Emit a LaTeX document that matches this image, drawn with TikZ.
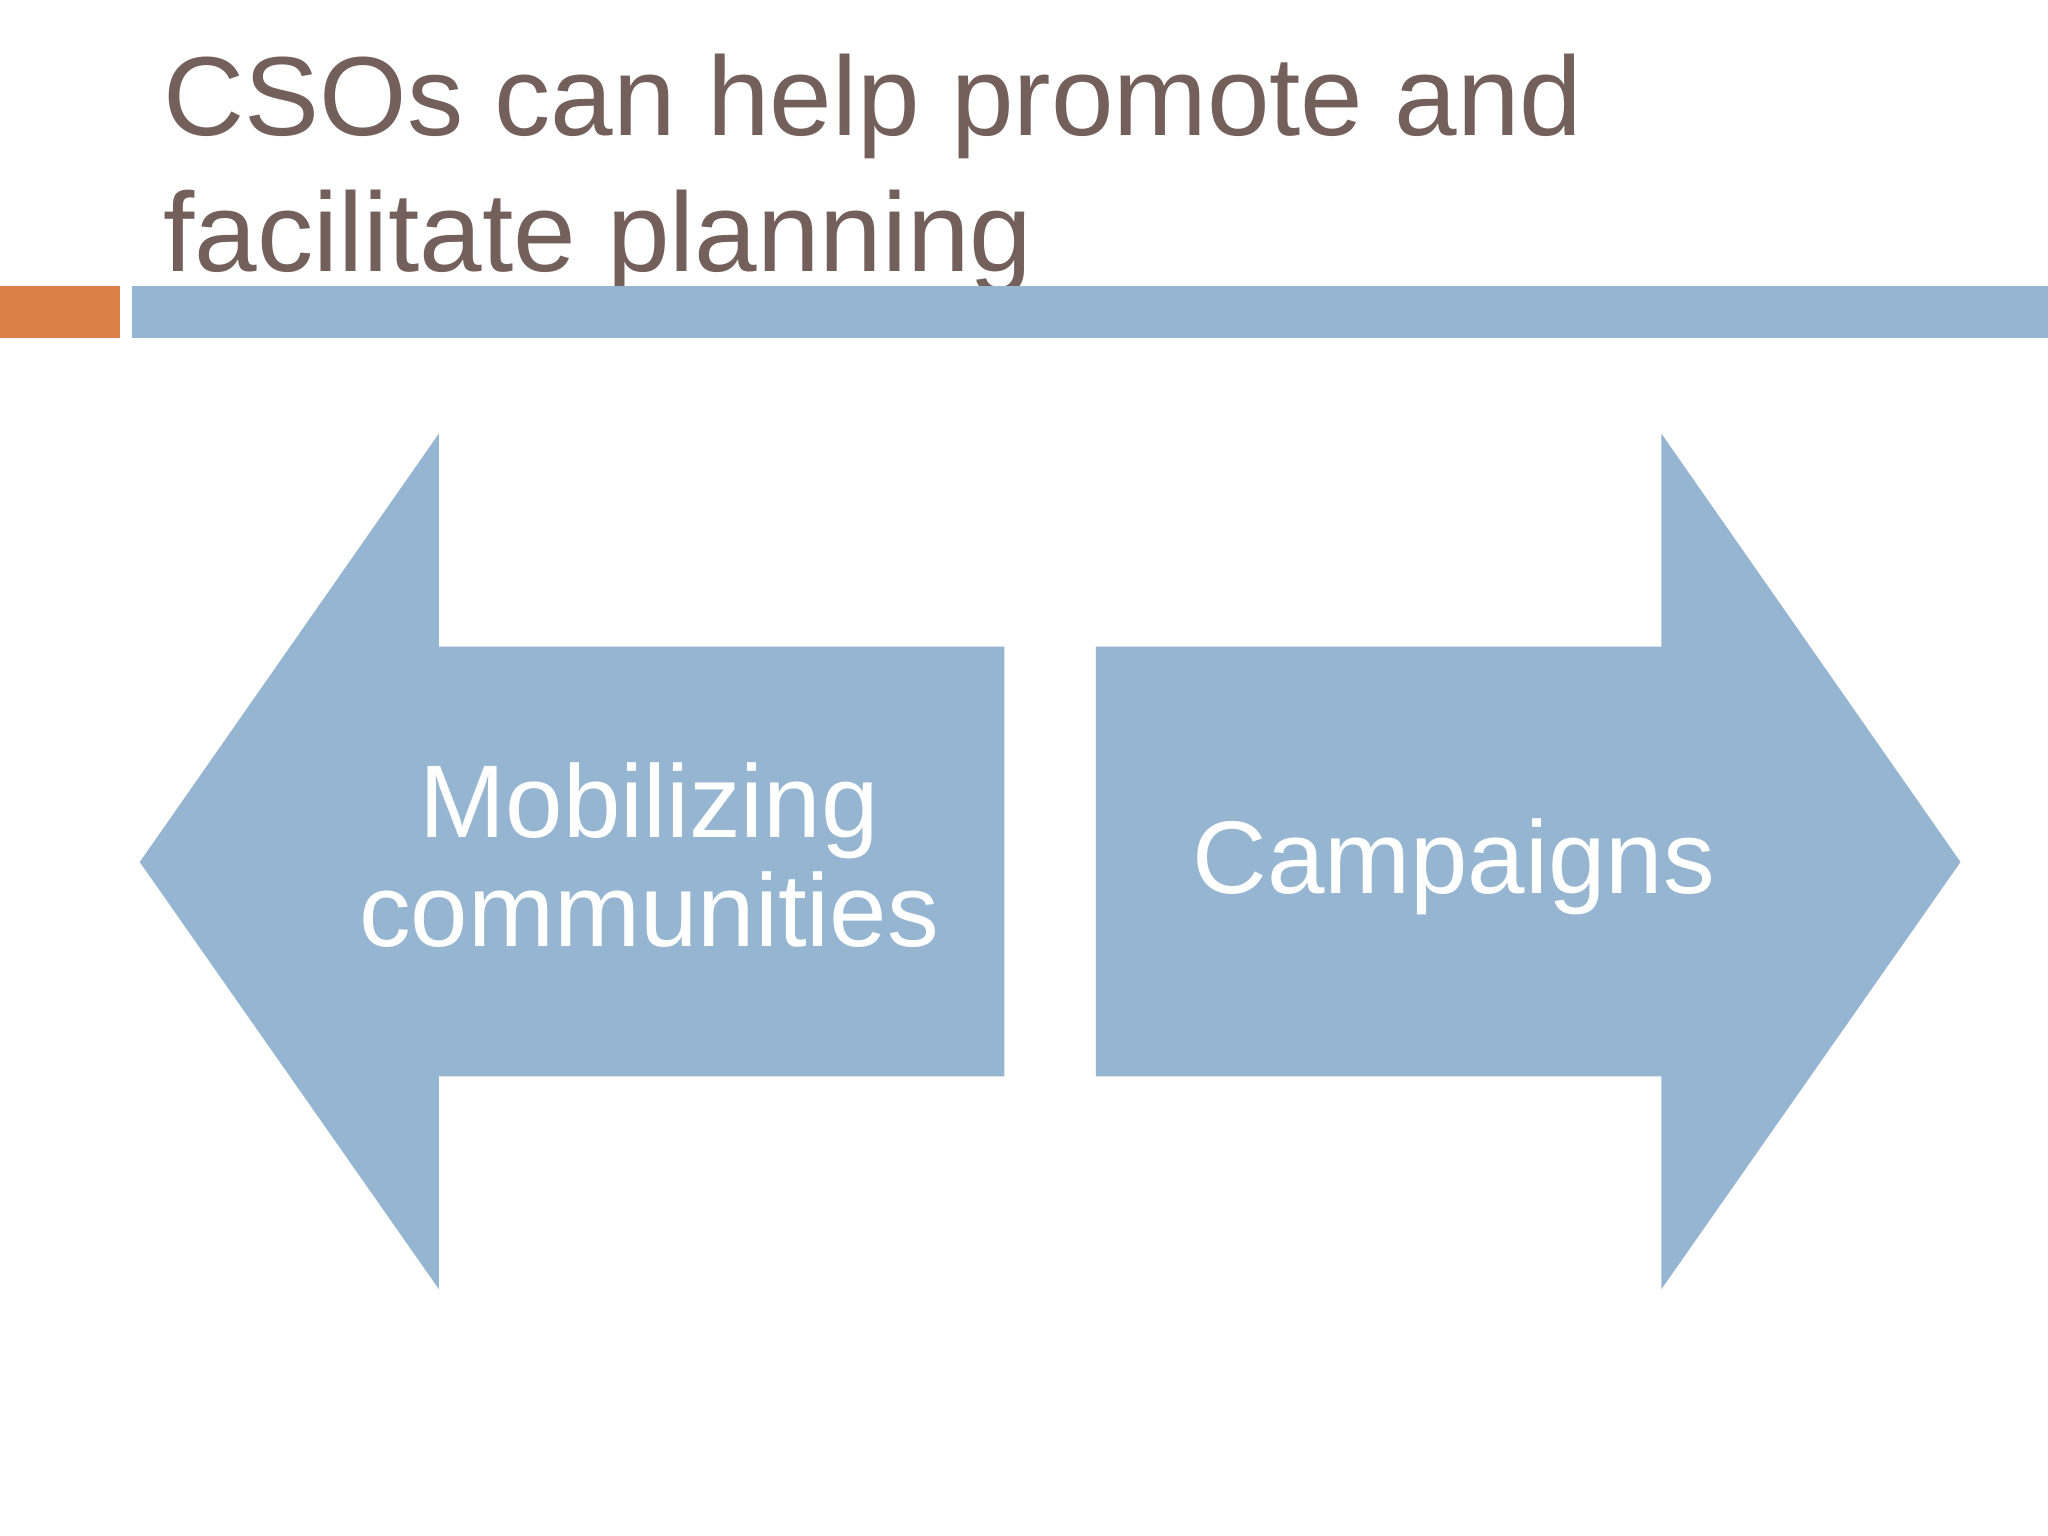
\documentclass[tikz,border=0pt]{standalone}
\usepackage{fontspec}
\setmainfont{Liberation Sans}
\definecolor{barblue}{HTML}{95B5D0}
\definecolor{barorange}{HTML}{DD8047}
\definecolor{titlecol}{HTML}{74605A}
\begin{document}
\begin{tikzpicture}[x=0.02cm,y=-0.02cm]
\tikzset{arrowshape/.style={fill=barblue,draw=none},
 lbl/.style={text=white,font=\fontsize{45}{42}\selectfont,align=center,inner sep=0pt}}
\useasboundingbox (0,0) rectangle (1568,1176);
\fill[white] (0,0) rectangle (1568,1176);
\node[anchor=base west,inner sep=0pt,text=titlecol,font=\fontsize{49}{59}\selectfont] (t1) at (125,104) {CSOs can help promote and};
\node[anchor=base west,inner sep=0pt,text=titlecol,font=\fontsize{49}{59}\selectfont] (t2) at (125,208) {facilitate planning};
\fill[barorange] (0,219) rectangle (92,259);
\fill[barblue] (101,219) rectangle (1568,259);
\fill[arrowshape] (107,660) -- (336,332) -- (336,495) -- (769,495) -- (769,824) -- (336,824) -- (336,987) -- cycle;
\fill[arrowshape] (1501,660) -- (1272,332) -- (1272,495) -- (839,495) -- (839,824) -- (1272,824) -- (1272,987) -- cycle;
\node[lbl,anchor=base] (m1) at (497,641) {Mobilizing};
\node[lbl,anchor=base] (m2) at (497,725) {communities};
\node[lbl,anchor=base] (c) at (1113,684) {Campaigns};
\end{tikzpicture}
\end{document}
